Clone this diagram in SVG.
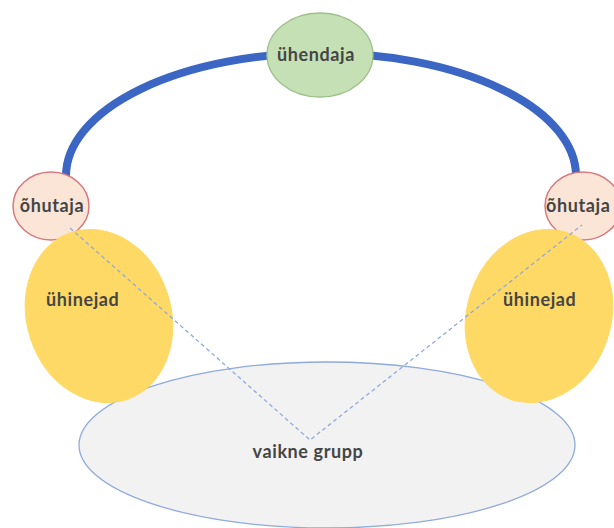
<svg xmlns="http://www.w3.org/2000/svg" width="614" height="528" viewBox="0 0 614 528">
<style>
.t{font-family:Lato,"Liberation Sans",sans-serif;font-size:18px;font-weight:bold;letter-spacing:0.6px;fill:#454545}
.y{fill:#ffd966;stroke:#ffd966;stroke-width:1}
.o{fill:#fbe5d6;stroke:#d9787c;stroke-width:1.5}
.d{fill:none;stroke:#8faadc;stroke-width:1.3;stroke-dasharray:4 3}
</style>
<rect width="614" height="528" fill="#ffffff"/>
<g id="connectors">
<path d="M66,176 A255,123 0 0 1 576,176" fill="none" stroke="#3b66c4" stroke-width="8"/>
</g>
<g id="vaikne">
<ellipse cx="327" cy="445" rx="248" ry="83" fill="#f2f2f2" stroke="#8faadc" stroke-width="1.3"/>
<text class="t" x="308" y="458" text-anchor="middle">vaikne grupp</text>
</g>
<g id="uhendaja">
<ellipse cx="320" cy="55" rx="53" ry="42" fill="#c5e0b4" stroke="#9dc08b" stroke-width="1.3"/>
<text class="t" x="316" y="61" text-anchor="middle">ühendaja</text>
</g>
<g id="ohutaja-left">
<ellipse cx="51" cy="206" rx="38" ry="34" class="o"/>
<text class="t" x="52" y="212" text-anchor="middle">õhutaja</text>
</g>
<g id="ohutaja-right">
<ellipse cx="583" cy="206" rx="38" ry="34" class="o"/>
<text class="t" x="546" y="212">õhutaja</text>
</g>
<g id="uhinejad-left">
<ellipse cx="99" cy="316" rx="72" ry="88" transform="rotate(-18 99 316)" class="y"/>
<text class="t" x="46" y="306">ühinejad</text>
</g>
<g id="uhinejad-right">
<ellipse cx="539" cy="316" rx="72" ry="88" transform="rotate(18 539 316)" class="y"/>
<text class="t" x="503" y="306">ühinejad</text>
</g>
<g id="dashed">
<polyline points="70,228 310,440 582,225" class="d"/>
</g>
</svg>
